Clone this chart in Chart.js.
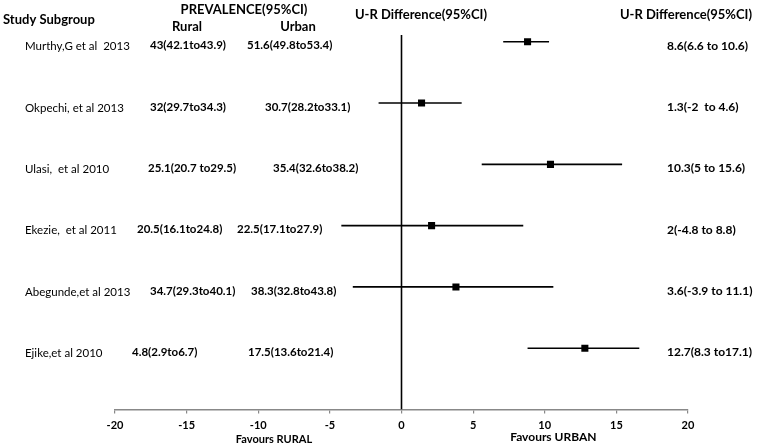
<!DOCTYPE html>
<html>
<head>
<meta charset="utf-8">
<script src="https://cdn.jsdelivr.net/npm/chart.js@4"></script>
<style>
  html, body { margin: 0; padding: 0; background: #fff; }
  #wrap { width: 764px; height: 447px; }
</style>
</head>
<body>
<div id="wrap"><canvas id="forest"></canvas></div>
<script>
const studies = ["Murthy,G et al  2013", "Okpechi, et al 2013", "Ulasi,  et al 2010",
    "Ekezie,  et al 2011", "Abegunde,et al 2013", "Ejike,et al 2010"];
const ruralText = ["43(42.1to43.9)", "32(29.7to34.3)", "25.1(20.7 to29.5)",
    "20.5(16.1to24.8)", "34.7(29.3to40.1)", "4.8(2.9to6.7)"];
const urbanText = ["51.6(49.8to53.4)", "30.7(28.2to33.1)", "35.4(32.6to38.2)",
    "22.5(17.1to27.9)", "38.3(32.8to43.8)", "17.5(13.6to21.4)"];
const diffText = ["8.6(6.6 to 10.6)", "1.3(-2  to 4.6)", "10.3(5 to 15.6)",
    "2(-4.8 to 8.8)", "3.6(-3.9 to 11.1)", "12.7(8.3 to17.1)"];

// plotted values as drawn in the figure
const estimate = [8.8, 1.4, 10.4, 2.1, 3.8, 12.8];
const lower = [7.1, -1.6, 5.6, -4.2, -3.4, 8.8];
const upper = [10.3, 4.2, 15.4, 8.5, 10.6, 16.6];
const xTicks = [-20, -15, -10, -5, 0, 5, 10, 15, 20];

// text column positions (px)
const ruralX = [150, 150, 148, 137, 150, 132];
const urbanX = [247, 265, 273, 237, 251, 248];

const FONT = "Lato, 'Open Sans', sans-serif";

const datasets = [];
studies.forEach((s, i) => {
    datasets.push({
        type: "line",
        data: [{ x: lower[i], y: i }, { x: upper[i], y: i }],
        borderColor: "#000",
        borderWidth: 1.6,
        pointRadius: 0
    });
});
datasets.push({
    type: "line",
    data: [{ x: 0, y: -0.11 }, { x: 0, y: 6 }],
    borderColor: "#000",
    borderWidth: 1.6,
    pointRadius: 0
});
datasets.push({
    type: "scatter",
    data: estimate.map((v, i) => ({ x: v, y: i })),
    backgroundColor: "#000",
    borderColor: "#000",
    pointStyle: "rect",
    pointRadius: 5,
    borderWidth: 0
});

const textPlugin = {
    id: "forestText",
    afterDatasetsDraw(chart) {
        const ctx = chart.ctx;
        const y = chart.scales.y;
        const x = chart.scales.x;
        ctx.save();
        ctx.fillStyle = "#000";
        ctx.textBaseline = "middle";

        ctx.font = "bold 13px " + FONT;
        ctx.textAlign = "left";
        ctx.fillText("Study Subgroup", 3, 20);
        ctx.textAlign = "center";
        ctx.fillText("PREVALENCE(95%CI)", 244, 10);
        ctx.fillText("Rural", 187, 27);
        ctx.fillText("Urban", 298, 27);
        ctx.fillText("U-R Difference(95%CI)", 421, 15);
        ctx.fillText("U-R Difference(95%CI)", 686, 15);

        studies.forEach((s, i) => {
            const py = y.getPixelForValue(i) + 4;
            ctx.textAlign = "left";
            ctx.font = "11.5px " + FONT;
            ctx.fillText(s, 25, py + 1);
            ctx.font = "bold 11.5px " + FONT;
            ctx.fillText(ruralText[i], ruralX[i], py);
            ctx.fillText(urbanText[i], urbanX[i], py);
            ctx.font = "bold 12px " + FONT;
            ctx.fillText(diffText[i], 667, py);
        });

        ctx.font = "bold 11px " + FONT;
        ctx.textAlign = "center";
        ctx.fillText("Favours RURAL", x.getPixelForValue(-8.9), 439);
        ctx.font = "bold 12px " + FONT;
        ctx.fillText("Favours URBAN", x.getPixelForValue(10.6), 437);
        ctx.restore();
    }
};

new Chart(document.getElementById("forest"), {
    type: "scatter",
    data: { datasets: datasets },
    options: {
        responsive: true,
        maintainAspectRatio: false,
        animation: false,
        layout: { padding: { left: 115, right: 76, top: 0, bottom: 0 } },
        plugins: {
            legend: { display: false },
            tooltip: { enabled: false }
        },
        scales: {
            x: {
                type: "linear",
                min: -20,
                max: 20,
                afterBuildTicks: (scale) => {
                    scale.ticks = xTicks.map(v => ({ value: v }));
                },
                afterFit: (scale) => { scale.height = 37.5; },
                grid: {
                    drawOnChartArea: false,
                    drawTicks: true,
                    tickLength: 4,
                    color: "#888",
                    lineWidth: 1.2
                },
                border: { color: "#888", width: 1.5 },
                ticks: {
                    color: "#000",
                    padding: 5,
                    maxRotation: 0,
                    autoSkip: false,
                    font: { family: FONT, size: 11, weight: "bold" }
                }
            },
            y: {
                type: "linear",
                display: false,
                reverse: true,
                min: -0.6,
                max: 6
            }
        }
    },
    plugins: [textPlugin]
});
</script>
</body>
</html>
